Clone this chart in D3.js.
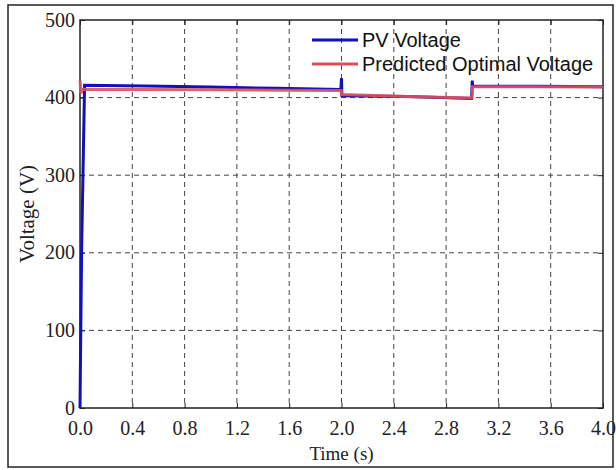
<!DOCTYPE html>
<html>
<head>
<meta charset="utf-8">
<script src="https://cdn.jsdelivr.net/npm/d3@7"></script>
<style>
  html, body { margin: 0; padding: 0; background: #fff; }
  svg { display: block; }
</style>
</head>
<body>
<svg id="chart" width="616" height="470"></svg>
<script>
// Time axis ticks (s) and voltage ticks (V)
const xTicks = [0.0, 0.4, 0.8, 1.2, 1.6, 2.0, 2.4, 2.8, 3.2, 3.6, 4.0];
const yTicks = [0, 100, 200, 300, 400, 500];

// PV voltage trace: [time (s), voltage (V)]
const pvTime    = [0, 0.012, 0.035, 0.5, 1.0, 1.5, 1.995, 2.0, 2.003, 2.5, 2.995, 3.0, 3.003, 3.5, 4.0];
const pvVoltage = [0, 200,   416,   415, 413.5, 412, 410.5, 425, 402.5, 401.5, 399, 422, 414.5, 414.5, 414];

// Predicted optimal voltage trace
const predTime    = [0, 0.008, 0.015, 0.5, 1.0, 1.5, 1.998, 2.0, 2.5, 2.998, 3.0, 3.5, 4.0];
const predVoltage = [422, 405, 410.5, 410.5, 410, 409.5, 409, 404, 401.5, 399.5, 414, 414, 413.5];

const seriesNames = ["PV Voltage", "Predicted Optimal Voltage"];
const seriesColors = ["#1010c0", "#e0505c"];

const serif = "'Liberation Serif', 'Times New Roman', serif";
const sans = "'Liberation Sans', Arial, sans-serif";

const svg = d3.select("#chart");
const margin = { left: 80, right: 13, top: 20, bottom: 62 };
const W = 616, H = 470;
const x = d3.scaleLinear().domain([0, 4]).range([margin.left, W - margin.right]);
const y = d3.scaleLinear().domain([0, 500]).range([H - margin.bottom, margin.top]);

// outer frame
svg.append("rect")
  .attr("x", 8).attr("y", 5).attr("width", 605).attr("height", 462)
  .attr("fill", "none").attr("stroke", "#222").attr("stroke-width", 1.5);

// dashed grid
const grid = svg.append("g").attr("stroke", "#444").attr("stroke-width", 1)
  .attr("stroke-dasharray", "5,4");
grid.selectAll("line.v").data(xTicks.slice(1, -1)).join("line")
  .attr("class", "v")
  .attr("x1", d => x(d)).attr("x2", d => x(d))
  .attr("y1", y(500)).attr("y2", y(0));
grid.selectAll("line.h").data(yTicks.slice(1, -1)).join("line")
  .attr("class", "h")
  .attr("x1", x(0)).attr("x2", x(4))
  .attr("y1", d => y(d)).attr("y2", d => y(d));

// axes with inward ticks
const fmtX = d3.format(".1f");
const axB = svg.append("g").attr("transform", `translate(0,${y(0)})`)
  .call(d3.axisBottom(x).tickValues(xTicks).tickFormat(fmtX).tickSizeInner(-5).tickSizeOuter(0).tickPadding(13));
const axT = svg.append("g").attr("transform", `translate(0,${y(500)})`)
  .call(d3.axisTop(x).tickValues(xTicks).tickFormat("").tickSizeInner(-5).tickSizeOuter(0));
const axL = svg.append("g").attr("transform", `translate(${x(0)},0)`)
  .call(d3.axisLeft(y).tickValues(yTicks).tickFormat(d3.format("d")).tickSizeInner(-5).tickSizeOuter(0).tickPadding(5));
const axR = svg.append("g").attr("transform", `translate(${x(4)},0)`)
  .call(d3.axisRight(y).tickValues(yTicks).tickFormat("").tickSizeInner(-5).tickSizeOuter(0));

[axB, axT, axL, axR].forEach(a => {
  a.attr("font-family", null).attr("font-size", null);
  a.select(".domain").remove();
  a.selectAll(".tick line").attr("stroke", "#222");
  a.selectAll(".tick text")
    .style("font-family", serif)
    .style("font-size", "20px")
    .attr("fill", "#222");
});
axL.selectAll(".tick text").attr("dy", "0.3em");

// plot frame
svg.append("rect")
  .attr("x", x(0)).attr("y", y(500))
  .attr("width", x(4) - x(0)).attr("height", y(0) - y(500))
  .attr("fill", "none").attr("stroke", "#222").attr("stroke-width", 1.5);

// data traces
const line = d3.line().x(d => x(d[0])).y(d => y(d[1]));
const pv = pvTime.map((t, i) => [t, pvVoltage[i]]);
const pred = predTime.map((t, i) => [t, predVoltage[i]]);

svg.append("path").datum(pv)
  .attr("d", line).attr("fill", "none")
  .attr("stroke", seriesColors[0]).attr("stroke-width", 3);
svg.append("path").datum(pred)
  .attr("d", line).attr("fill", "none")
  .attr("stroke", seriesColors[1]).attr("stroke-width", 3).attr("opacity", 0.9);

// axis titles
svg.append("text")
  .attr("x", x(2)).attr("y", 460)
  .attr("text-anchor", "middle")
  .style("font-family", serif).style("font-size", "19px")
  .attr("fill", "#222")
  .text("Time (s)");
svg.append("text")
  .attr("transform", `translate(34,${y(250)}) rotate(-90)`)
  .attr("text-anchor", "middle")
  .style("font-family", serif).style("font-size", "21px")
  .attr("fill", "#222")
  .text("Voltage (V)");

// legend
const legend = svg.append("g");
seriesNames.forEach((name, i) => {
  const ly = 40 + i * 24;
  legend.append("line")
    .attr("x1", 312).attr("x2", 358).attr("y1", ly).attr("y2", ly)
    .attr("stroke", seriesColors[i]).attr("stroke-width", 3);
  legend.append("text")
    .attr("x", 362).attr("y", ly).attr("dy", "0.35em")
    .style("font-family", sans).style("font-size", "20px")
    .attr("fill", "#111")
    .text(name);
});
</script>
</body>
</html>
